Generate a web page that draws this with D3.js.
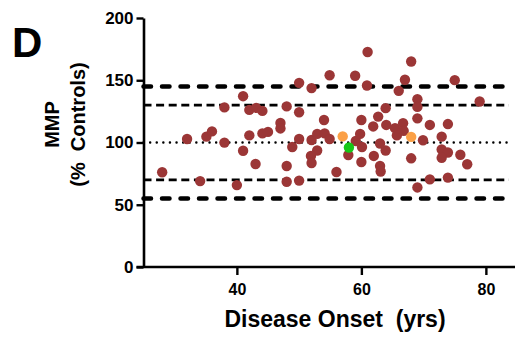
<!DOCTYPE html>
<html>
<head>
<meta charset="utf-8">
<script src="https://cdn.jsdelivr.net/npm/d3@7"></script>
<style>
body { margin: 0; background: #fff; }
svg { display: block; font-family: Arial, "Liberation Sans", sans-serif; }
</style>
</head>
<body>
<div id="chart"></div>
<script>
'use strict';

// data
var onset = [28.0, 32.0, 34.1, 35.1, 36.0, 38.0, 38.0, 40.0, 41.0, 41.0,
	42.0, 42.0, 43.1, 43.0, 44.1, 44.1, 45.0, 47.0, 47.0, 48.0,
	48.0, 48.0, 48.9, 50.0, 50.0, 50.0, 50.0, 52.0, 52.0, 52.9,
	54.1, 54.9, 52.9, 51.9, 52.0, 54.0, 56.0, 54.9, 59.0, 61.0,
	60.9, 57.9, 59.1, 59.8, 60.0, 60.1, 60.0, 61.9, 62.0, 62.7,
	63.0, 63.9, 63.0, 63.1, 63.9, 64.0, 65.4, 66.7, 65.7, 66.8,
	66.0, 67.0, 68.0, 69.0, 69.0, 69.0, 68.0, 69.0, 69.9, 71.0,
	71.0, 72.9, 73.9, 72.9, 73.9, 72.9, 73.9, 75.0, 75.9, 77.0, 79.0];
var mmp = [76.1, 102.8, 69.0, 104.7, 108.9, 128.2, 99.9, 65.8, 137.2, 93.4,
	126.2, 105.7, 127.8, 82.7, 125.4, 107.3, 108.5, 115.7, 111.3, 129.0,
	81.1, 68.5, 96.4, 147.9, 124.3, 102.8, 69.4, 143.7, 102.0, 106.9,
	107.3, 102.8, 93.6, 89.2, 83.5, 118.1, 76.3, 154.0, 153.6, 172.7,
	145.8, 90.0, 101.2, 106.9, 118.1, 96.4, 84.3, 112.9, 89.2, 120.8,
	99.2, 93.6, 81.1, 76.7, 127.6, 114.1, 111.5, 115.5, 105.7, 109.3,
	141.5, 150.4, 165.1, 134.8, 128.6, 119.4, 87.3, 63.9, 101.8, 114.1,
	70.4, 104.7, 114.8, 94.4, 92.0, 87.7, 71.8, 150.1, 90.2, 82.5, 132.9];

var onsetOrange = [57.0, 68.0];
var mmpOrange = [104.9, 104.5];
var onsetGreen = [58.0];
var mmpGreen = [96.0];

var xTicks = [40, 60, 80];
var yTicks = [0, 50, 100, 150, 200];

var thickLines = [145, 55];
var thinLines = [130, 70];
var dotLines = [100];

var margin = { top: 18, right: -2, bottom: 73, left: 143.5 };
var W = 515, H = 340;
var width = W - margin.left - margin.right;
var height = H - margin.top - margin.bottom;
var fontBold = 'bold';

var svg = d3.select('#chart').append('svg')
	.attr('width', W)
	.attr('height', H);

var g = svg.append('g')
	.attr('transform', 'translate(' + margin.left + ',' + margin.top + ')');

var x = d3.scaleLinear().domain([25, 85]).range([0, width]);
var y = d3.scaleLinear().domain([0, 200]).range([height, 0]);

var lineEnd = width - 8;

// reference lines
function refLines(vals, w, dash, cap) {
	g.append('g').selectAll('line')
		.data(vals)
		.enter().append('line')
		.attr('x1', 0)
		.attr('x2', lineEnd)
		.attr('y1', function(d) { return y(d); })
		.attr('y2', function(d) { return y(d); })
		.style('stroke', '#000')
		.style('stroke-width', w)
		.style('stroke-dasharray', dash)
		.style('stroke-linecap', cap);
}
refLines(thickLines, 4.5, '7.5 11', 'round');
refLines(thinLines, 2.8, '8 4.6', 'butt');
refLines(dotLines, 2.4, '0.1 6.5', 'round');

// axes
var yAxis = d3.axisLeft(y).tickValues(yTicks).tickSize(7).tickSizeOuter(0).tickPadding(3);
var yG = g.append('g').call(yAxis);
var xAxis = d3.axisBottom(x).tickValues(xTicks).tickSize(8).tickSizeOuter(0).tickPadding(9);
var xG = g.append('g').attr('transform', 'translate(0,' + height + ')').call(xAxis);

[yG, xG].forEach(function(a) {
	a.selectAll('path').style('stroke', '#000').style('stroke-width', 2.6);
	a.selectAll('line').style('stroke', '#000').style('stroke-width', 2.4);
	a.selectAll('text').style('fill', '#000').style('font-weight', fontBold)
		.style('font-family', 'Arial, "Liberation Sans", sans-serif');
});
yG.selectAll('text').style('font-size', '17px');
xG.selectAll('text').style('font-size', '16px');
// let the x axis meet the 0 tick
xG.select('path').attr('d', 'M-7,0H' + width);

// dots
function dots(xs, ys, col) {
	g.append('g').selectAll('circle')
		.data(xs)
		.enter().append('circle')
		.attr('cx', function(d) { return x(d); })
		.attr('cy', function(d, i) { return y(ys[i]); })
		.attr('r', 5.2)
		.style('fill', col);
}
dots(onset, mmp, '#9b3636');
dots(onsetOrange, mmpOrange, '#fba046');
dots(onsetGreen, mmpGreen, '#16c816');

// titles
svg.append('text')
	.attr('x', 335)
	.attr('y', 327)
	.style('text-anchor', 'middle')
	.style('font-size', '23px')
	.style('font-weight', fontBold)
	.text('Disease Onset\u00a0\u00a0(yrs)');

var yLab = svg.append('text')
	.attr('transform', 'translate(0,' + y(100) + ') rotate(-90)')
	.style('text-anchor', 'middle')
	.style('font-size', '20px')
	.style('font-weight', fontBold);
yLab.append('tspan').attr('x', 0).attr('y', 59).text('MMP');
yLab.append('tspan').attr('x', 0).attr('y', 85).text('(%\u00a0\u00a0Controls)');

svg.append('text')
	.attr('x', 12)
	.attr('y', 57)
	.style('font-size', '42px')
	.style('font-weight', fontBold)
	.text('D');
</script>
</body>
</html>
